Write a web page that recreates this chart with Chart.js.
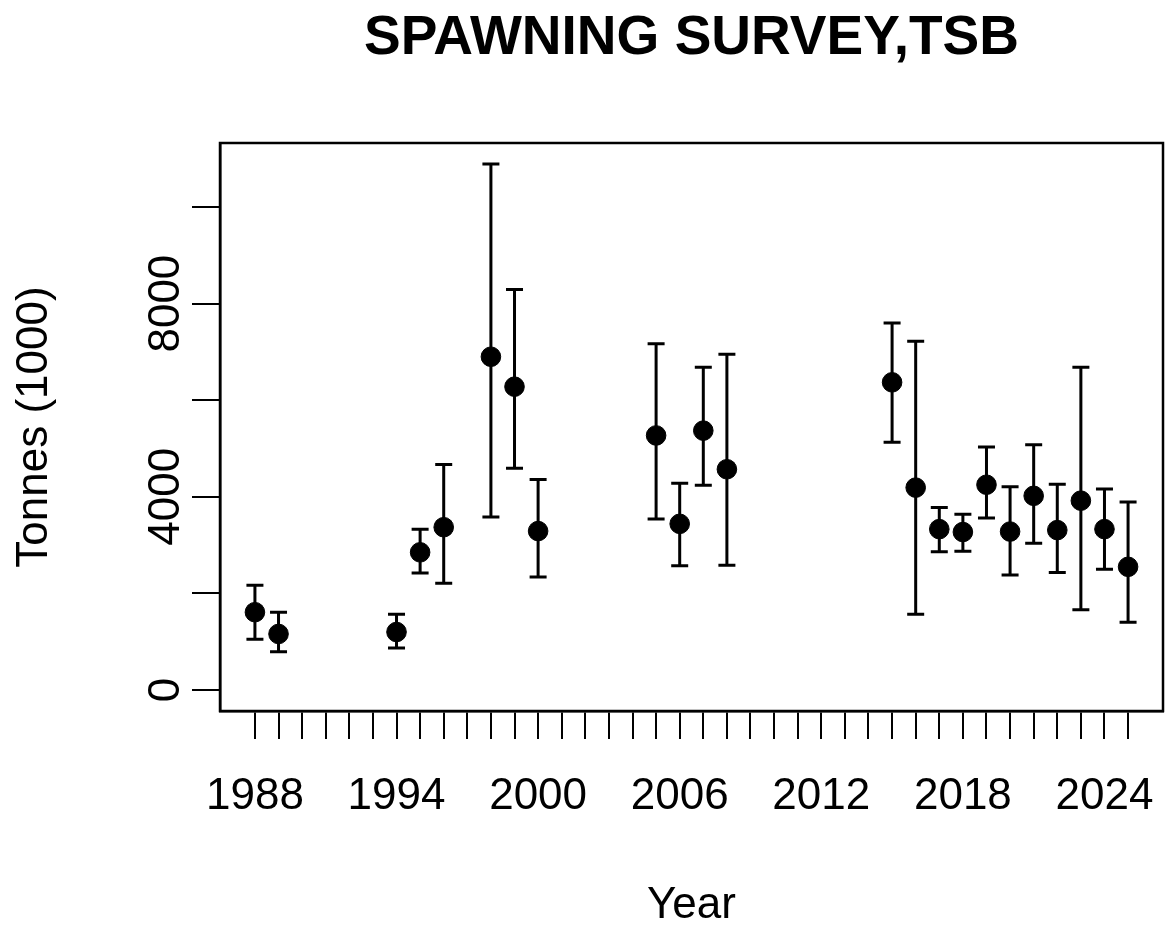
<!DOCTYPE html>
<html>
<head>
<meta charset="utf-8">
<script src="https://cdn.jsdelivr.net/npm/chart.js@4.4.1/dist/chart.umd.min.js"></script>
<style>
  body { margin: 0; background: #fff; }
  #wrap { width: 1167px; height: 925px; }
</style>
</head>
<body>
<div id="wrap"><canvas id="surveyChart" width="1167" height="925"></canvas></div>
<script>
// survey years and estimates (tonnes, 1000s)
const years = [1988, 1989, 1994, 1995, 1996, 1998, 1999, 2000, 2005, 2006, 2007, 2008,
               2015, 2016, 2017, 2018, 2019, 2020, 2021, 2022, 2023, 2024, 2025];
const tsb   = [1610, 1160, 1200, 2850, 3370, 6900, 6280, 3290, 5270, 3440, 5370, 4570,
               6370, 4190, 3330, 3270, 4250, 3280, 4020, 3310, 3920, 3330, 2550];
const upper = [2170, 1610, 1570, 3330, 4670, 10890, 8290, 4360, 7170, 4280, 6680, 6950,
               7600, 7220, 3780, 3640, 5030, 4210, 5080, 4260, 6680, 4160, 3890];
const lower = [1050, 790, 870, 2420, 2210, 3580, 4590, 2340, 3540, 2570, 4240, 2580,
               5130, 1570, 2860, 2870, 3560, 2380, 3040, 2430, 1660, 2500, 1400];

// axis ticks
const xTickYears = [];
for (let y = 1988; y <= 2025; y++) xTickYears.push(y);
const xTickLabels = ['1988', '1994', '2000', '2006', '2012', '2018', '2024'];
const yTicks = [0, 2000, 4000, 6000, 8000, 10000];
const yTickLabels = ['0', '4000', '8000'];

const FONT = '"Liberation Sans", Arial, sans-serif';
Chart.defaults.color = '#000';
Chart.defaults.font.family = FONT;

// R style axis limits (4% extension)
const xFirst = years[0], xLast = years[years.length - 1];
const xPad = (xLast - xFirst) * 0.04;
const yTop = Math.max(...upper);
const yPad = yTop * 0.04;

// error bars, frame and rotated y labels
const extras = {
    id: 'extras',
    afterDatasetsDraw(chart) {
        const ctx = chart.ctx;
        const xs = chart.scales.x, ys = chart.scales.y;
        const area = chart.chartArea;
        ctx.save();
        ctx.strokeStyle = '#000';
        ctx.lineWidth = 3;
        for (let i = 0; i < years.length; i++) {
            const px = xs.getPixelForValue(years[i]);
            const pTop = ys.getPixelForValue(upper[i]);
            const pBot = ys.getPixelForValue(lower[i]);
            ctx.beginPath();
            ctx.moveTo(px, pTop); ctx.lineTo(px, pBot);
            ctx.moveTo(px - 8.5, pTop); ctx.lineTo(px + 8.5, pTop);
            ctx.moveTo(px - 8.5, pBot); ctx.lineTo(px + 8.5, pBot);
            ctx.stroke();
        }
        // box
        ctx.lineWidth = 2.5;
        ctx.strokeRect(area.left, area.top, area.right - area.left, area.bottom - area.top);
        // y tick labels, vertical like R
        ctx.fillStyle = '#000';
        ctx.font = '44px ' + FONT;
        ctx.textAlign = 'center';
        ctx.textBaseline = 'middle';
        yTickLabels.forEach(lbl => {
            const py = ys.getPixelForValue(Number(lbl));
            ctx.save();
            ctx.translate(167, py);
            ctx.rotate(-Math.PI / 2);
            ctx.fillText(lbl, 0, 0);
            ctx.restore();
        });
        ctx.restore();
    }
};

const ctx = document.getElementById('surveyChart').getContext('2d');
new Chart(ctx, {
    type: 'scatter',
    data: {
        datasets: [{
            data: years.map((y, i) => ({ x: y, y: tsb[i] })),
            backgroundColor: '#000',
            borderColor: '#000',
            pointRadius: 9.8,
            pointHoverRadius: 9.8
        }]
    },
    options: {
        responsive: false,
        animation: false,
        layout: { autoPadding: false, padding: { left: 0, top: 0, bottom: 0, right: 4 } },
        plugins: {
            legend: { display: false },
            tooltip: { enabled: false },
            title: {
                display: true,
                fullSize: false,
                text: 'SPAWNING SURVEY,TSB',
                font: { size: 55, weight: 'bold', family: FONT },
                padding: { top: 6, bottom: 71 }
            }
        },
        scales: {
            x: {
                type: 'linear',
                min: xFirst - xPad,
                max: xLast + xPad,
                afterBuildTicks: s => { s.ticks = xTickYears.map(v => ({ value: v })); },
                afterFit: s => {
                    s.height = 925 - 711;
                    s.paddingLeft = 0;
                    s.paddingRight = 0;
                },
                grid: { drawOnChartArea: false, drawTicks: true, tickLength: 28, color: '#000', lineWidth: 2 },
                border: { display: true, color: '#000', width: 2.5 },
                ticks: {
                    autoSkip: false,
                    maxRotation: 0,
                    padding: 31,
                    font: { size: 44 },
                    callback: v => (xTickLabels.includes(String(v)) ? String(v) : '')
                },
                title: { display: true, text: 'Year', font: { size: 44, lineHeight: 0.85 }, padding: { top: 0, bottom: 0 } }
            },
            y: {
                min: -yPad,
                max: yTop + yPad,
                afterBuildTicks: s => { s.ticks = yTicks.map(v => ({ value: v })); },
                afterFit: s => { s.width = 220; },
                grid: { drawOnChartArea: false, drawTicks: true, tickLength: 28, color: '#000', lineWidth: 2 },
                border: { display: true, color: '#000', width: 2.5 },
                ticks: { display: false },
                title: { display: true, text: 'Tonnes (1000)', font: { size: 44 }, padding: { top: 8, bottom: 0 } }
            }
        }
    },
    plugins: [extras]
});
</script>
</body>
</html>
